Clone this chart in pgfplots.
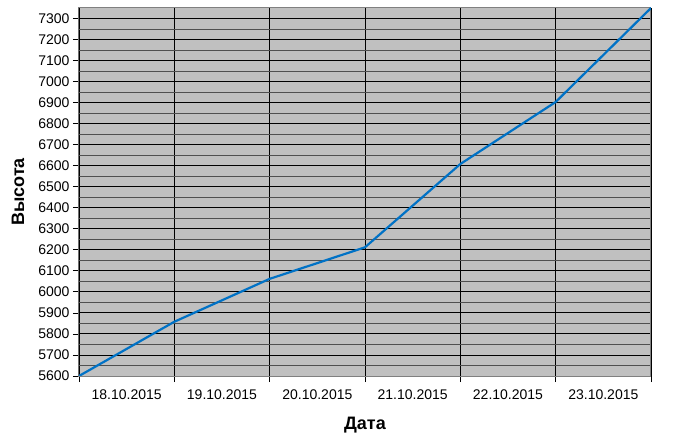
\documentclass[border=0pt]{standalone}
\usepackage{pgfplots}
\pgfplotsset{compat=1.18}
\usepackage{fontspec}
\setmainfont{Liberation Sans}

\definecolor{plotbg}{RGB}{192,192,192}
\definecolor{minorgrid}{RGB}{80,80,80}
\definecolor{lineblue}{RGB}{0,114,198}

\begin{document}
\begin{tikzpicture}
  \begin{axis}[
    scale only axis,
    width=572bp, height=368bp,
    xmin=0, xmax=6,
    ymin=5600, ymax=7350,
    xtick={0,...,6},
    xticklabels={18.10.2015,19.10.2015,20.10.2015,21.10.2015,22.10.2015,23.10.2015},
    x tick label as interval,
    ytick={5600,5700,...,7300},
    minor y tick num=1,
    minor tick length=0pt,
    major tick length=6bp,
    tick align=outside,
    xtick pos=bottom, ytick pos=left,
    tick style={black, line width=0.8bp},
    grid=both,
    major grid style={black, line width=0.9bp},
    minor grid style={minorgrid, line width=0.9bp},
    axis background/.style={fill=plotbg},
    axis line style={draw=gray, line width=1bp},
    /pgf/number format/assume math mode=true,
    /pgf/number format/1000 sep={},
    tick label style={font=\fontsize{14bp}{16bp}\selectfont},
    xticklabel style={yshift=-4bp},
    xlabel={Дата}, ylabel={Высота},
    label style={font=\bfseries\fontsize{18bp}{20bp}\selectfont},
    xlabel style={at={(axis description cs:0.5,-0.1332)}, anchor=center},
    ylabel style={at={(axis description cs:-0.1066,0.5)}, anchor=center, rotate=0},
  ]
  \addplot[lineblue, line width=2.2bp] coordinates {
    (0,5600) (1,5858) (2,6062) (3,6212) (4,6608) (5,6903) (6,7350)
  };
  \draw[black, line width=1bp] (axis cs:0,7350) -- (axis cs:0,5600) -- (axis cs:6,5600);
  \end{axis}
  \pgfresetboundingbox
  \path (-79bp,-67bp) rectangle (618bp,376bp);
\end{tikzpicture}
\end{document}
